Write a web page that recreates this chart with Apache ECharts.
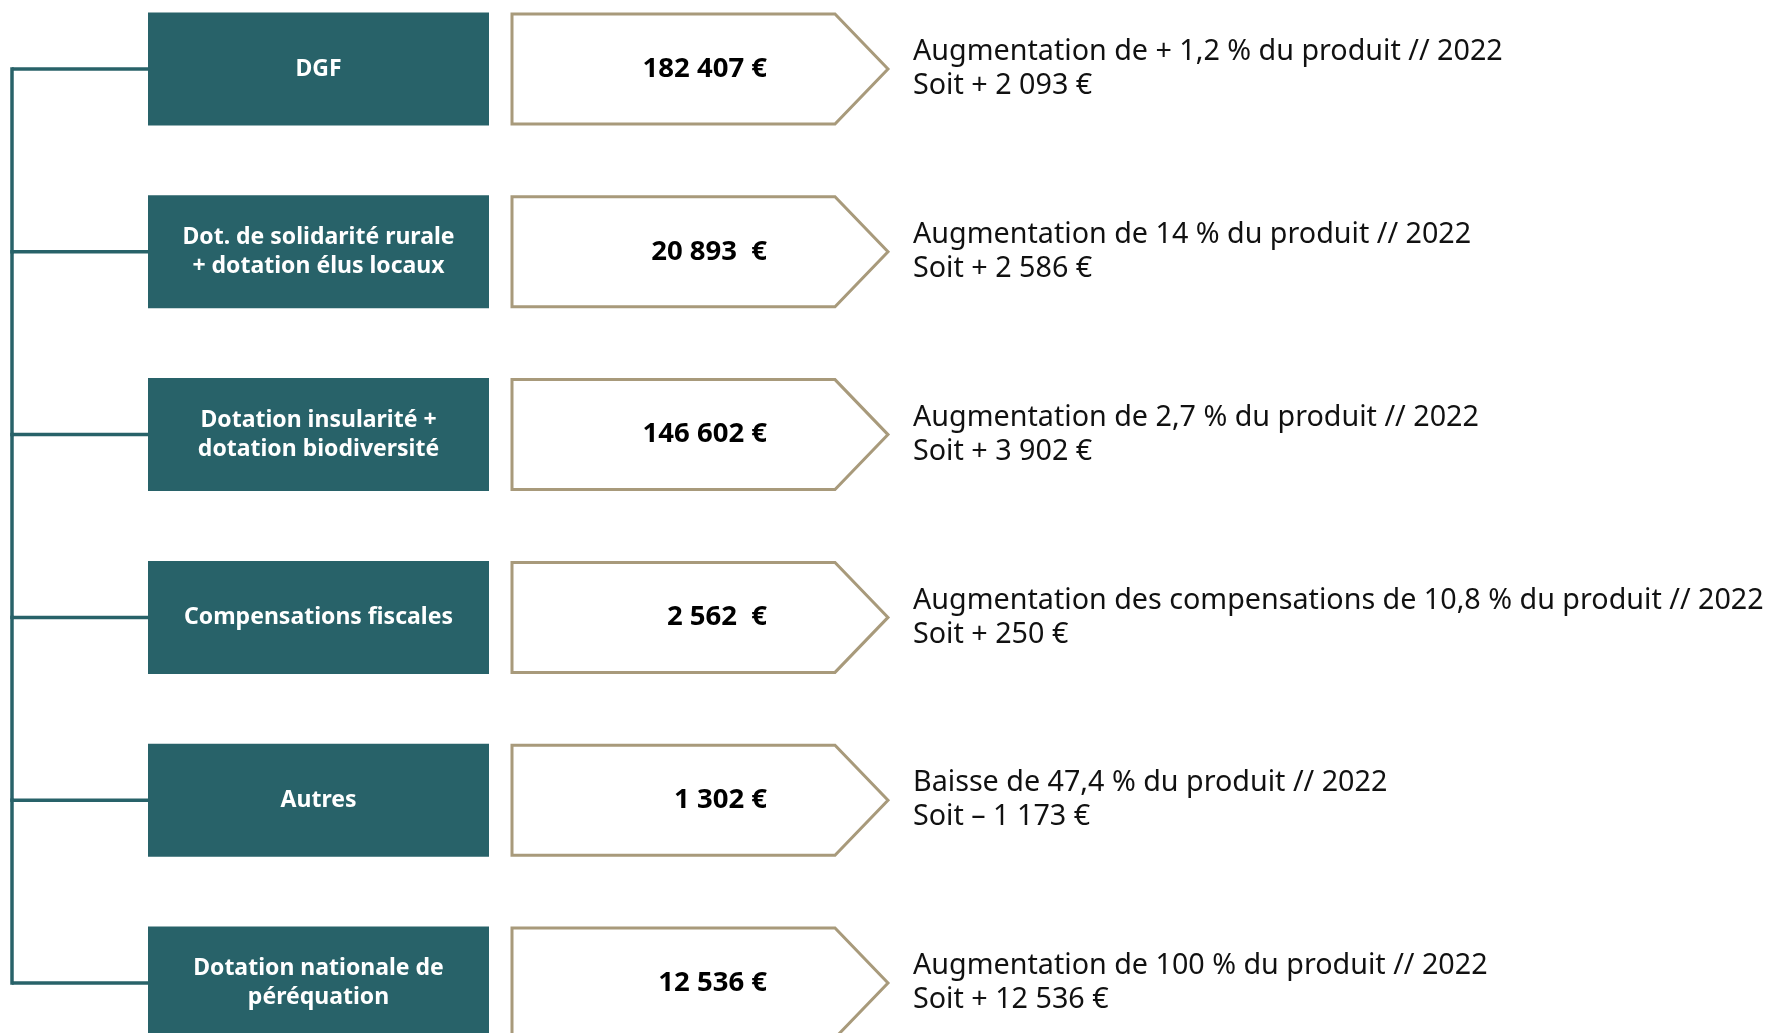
<!DOCTYPE html>
<html>
<head>
<meta charset="utf-8">
<script src="https://cdn.jsdelivr.net/npm/echarts@6/dist/echarts.min.js"></script>
<style>
  html, body { margin:0; padding:0; background:#fff; }
  #main { width:1770px; height:1033px; }
</style>
</head>
<body>
<div id="main"></div>
<script>
// postes de dotations
var labels = [
    'DGF',
    'Dot. de solidarité rurale\n+ dotation élus locaux',
    'Dotation insularité +\ndotation biodiversité',
    'Compensations fiscales',
    'Autres',
    'Dotation nationale de\npéréquation'
];
var amounts = ['182 407 €', '20 893  €', '146 602 €', '2 562  €', '1 302 €', '12 536 €'];
var notes = [
    'Augmentation de + 1,2 % du produit // 2022',
    'Augmentation de 14 % du produit // 2022',
    'Augmentation de 2,7 % du produit // 2022',
    'Augmentation des compensations de 10,8 % du produit // 2022',
    'Baisse de 47,4 % du produit // 2022',
    'Augmentation de 100 % du produit // 2022'
];
var deltas = ['Soit + 2 093 €', 'Soit + 2 586 €', 'Soit + 3 902 €', 'Soit + 250 €', 'Soit – 1 173 €', 'Soit + 12 536 €'];

var TEAL = '#286269',
    TAN = '#a89a7b';

var chart = echarts.init(document.getElementById('main'));

function renderItem(params, api) {
    var i = params.dataIndex;
    var cy = api.coord([0, i])[1];
    var kids = [];
    // trait de liaison
    if (i > 0) {
        var py = api.coord([0, i - 1])[1];
        kids.push({type:'line', shape:{x1:12, y1:py - 1.75, x2:12, y2:cy + 1.75},
            style:{stroke:TEAL, lineWidth:3.5}});
    }
    kids.push({type:'line', shape:{x1:12, y1:cy, x2:148, y2:cy},
        style:{stroke:TEAL, lineWidth:3.5}});
    // bloc titre
    kids.push({type:'rect', shape:{x:148, y:cy - 56.5, width:341, height:113},
        style:{fill:TEAL}});
    kids.push({type:'text', x:318.5, y:cy,
        style:{text:labels[i], fill:'#fff', fontSize:23, fontWeight:'bold',
            fontFamily:'Noto Sans', align:'center', verticalAlign:'middle', lineHeight:29}});
    // fleche montant
    kids.push({type:'polygon',
        shape:{points:[[512, cy - 55], [835, cy - 55], [888, cy], [835, cy + 55], [512, cy + 55]]},
        style:{fill:'#fff', stroke:TAN, lineWidth:3, lineJoin:'miter'}});
    kids.push({type:'text', x:767, y:cy,
        style:{text:amounts[i], fill:'#000', fontSize:27.5, fontWeight:'bold',
            fontFamily:'Noto Sans', align:'right', verticalAlign:'middle'}});
    // commentaire
    kids.push({type:'text', x:913, y:cy,
        style:{text:notes[i] + '\n' + deltas[i], fill:'#111', fontSize:28.7,
            fontFamily:'Noto Sans', align:'left', verticalAlign:'middle', lineHeight:34}});
    return {type:'group', children:kids};
}

var option = {
    animation:false,
    grid:{left:0, right:0, top:69, bottom:50},
    xAxis:{type:'value', min:0, max:1770, show:false},
    yAxis:{type:'category', data:labels, inverse:true, boundaryGap:false, show:false},
    series:[{
        type:'custom',
        clip:false,
        renderItem:renderItem,
        data:labels.map(function (l, i) { return [0, i]; })
    }]
};
chart.setOption(option);
</script>
</body>
</html>
